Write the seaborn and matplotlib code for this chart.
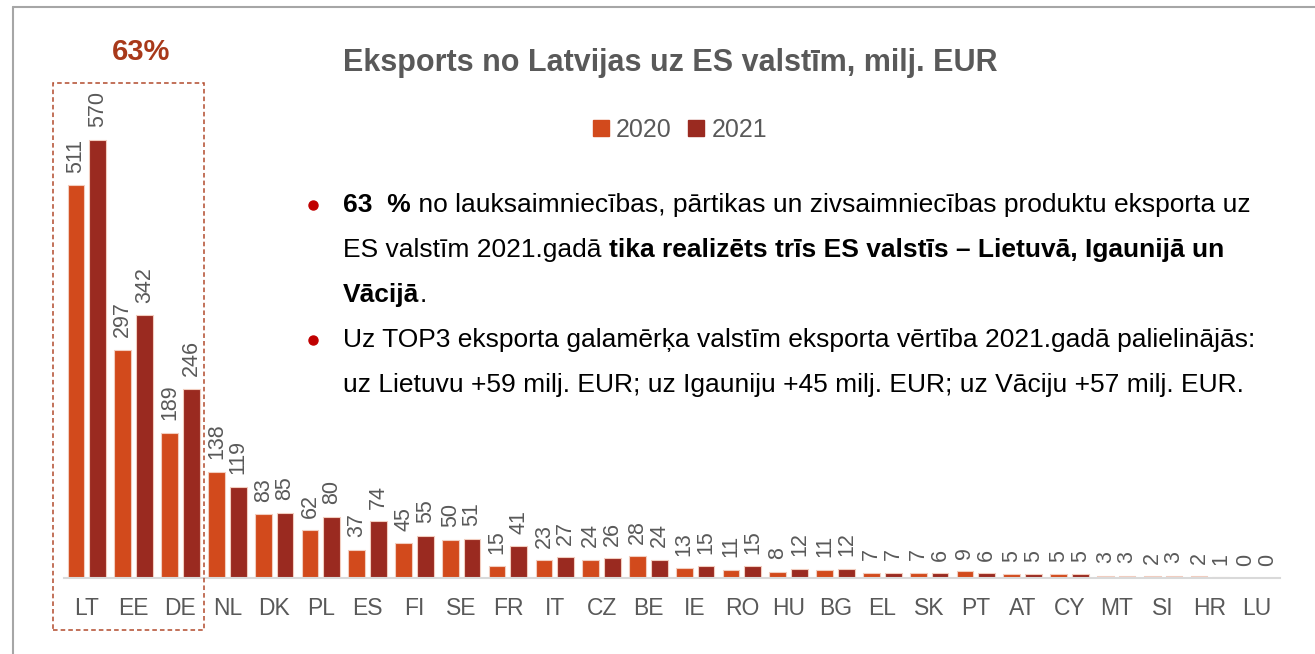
import pandas as pd
import seaborn as sns
import matplotlib.pyplot as plt
from matplotlib.patches import Rectangle
from matplotlib.lines import Line2D

countries = ['LT', 'EE', 'DE', 'NL', 'DK', 'PL', 'ES', 'FI', 'SE', 'FR', 'IT', 'CZ', 'BE',
             'IE', 'RO', 'HU', 'BG', 'EL', 'SK', 'PT', 'AT', 'CY', 'MT', 'SI', 'HR', 'LU']
exp_2020 = [511, 297, 189, 138, 83, 62, 37, 45, 50, 15, 23, 24, 28,
            13, 11, 8, 11, 7, 7, 9, 5, 5, 3, 2, 2, 0]
exp_2021 = [570, 342, 246, 119, 85, 80, 74, 55, 51, 41, 27, 26, 24,
            15, 15, 12, 12, 7, 6, 6, 5, 5, 3, 3, 1, 0]
years = ['2020', '2021']
colors = ['#D24A1C', '#9A2A20']
gray = '#595959'

title = 'Eksports no Latvijas uz ES valstīm, milj. EUR'
share = '63%'
notes = [
    [('63  %', 'bold'), (' no lauksaimniecības, pārtikas un zivsaimniecības produktu eksporta uz', 'normal')],
    [('ES valstīm 2021.gadā ', 'normal'), ('tika realizēts trīs ES valstīs – Lietuvā, Igaunijā un', 'bold')],
    [('Vācijā', 'bold'), ('.', 'normal')],
    [('Uz TOP3 eksporta galamērķa valstīm eksporta vērtība 2021.gadā palielinājās:', 'normal')],
    [('uz Lietuvu +59 milj. EUR; uz Igauniju +45 milj. EUR; uz Vāciju +57 milj. EUR.', 'normal')],
]

df = pd.DataFrame({
    'valsts': countries * 2,
    'gads': [years[0]] * len(countries) + [years[1]] * len(countries),
    'eksports': exp_2020 + exp_2021,
})

sns.set_style('white')
plt.rcParams['font.family'] = ['Liberation Sans', 'DejaVu Sans']

W, H = 1315, 654
fig = plt.figure(figsize=(W / 100, H / 100), dpi=100)
ax = fig.add_axes([63.5 / W, 1 - 578 / H, (1280 - 63.5) / W, (578 - 100) / H])

sns.barplot(data=df, x='valsts', y='eksports', hue='gads', palette=colors, saturation=1,
            width=0.93, gap=0.23, edgecolor='#F2CDBF', linewidth=0.8, ax=ax, legend=True)

for c in ax.containers:
    ax.bar_label(c, labels=[f'{v:.0f}' for v in c.datavalues], rotation=90,
                 padding=9, fontsize=15.5, color=gray)

ax.set_ylim(0, 622)
ax.set_xlim(-0.5, len(countries) - 0.5)
ax.set_xlabel('')
ax.set_ylabel('')
ax.set_yticks([])
for s in ['top', 'left', 'right']:
    ax.spines[s].set_visible(False)
ax.spines['bottom'].set_color('#D9D9D9')
ax.spines['bottom'].set_linewidth(1.5)
ax.tick_params(axis='x', length=0, pad=14, labelsize=16.5, labelcolor=gray)

handles = [Line2D([], [], marker='s', ls='', markersize=11, color=c) for c in colors]
ax.legend(handles, years, loc='center', bbox_to_anchor=(680 / W, 1 - 130 / H),
          bbox_transform=fig.transFigure, ncol=2, frameon=False, fontsize=18,
          handlelength=0.6, handletextpad=0.3, columnspacing=0.7, labelcolor=gray)

fig.text(343 / W, 1 - 63 / H, title, fontsize=22, fontweight='bold', color=gray, va='center')
fig.text(141 / W, 1 - 52 / H, share, fontsize=21, fontweight='bold', color='#A8391A',
         ha='center', va='center')

# dashed box round the top three
fig.patches.append(Rectangle((53 / W, 1 - 630 / H), (204 - 53) / W, (630 - 83) / H,
                             transform=fig.transFigure, fill=False, ls=(0, (3, 2)),
                             lw=1.1, edgecolor='#B24A2C'))
# outer frame
fig.add_artist(Line2D([13 / W, 13 / W], [0, 1 - 7 / H], color='#A6A6A6', lw=1.5))
fig.add_artist(Line2D([13 / W, 1], [1 - 7 / H, 1 - 7 / H], color='#A6A6A6', lw=1.5))

# bullet text with mixed bold parts
renderer = fig.canvas.get_renderer()
x0, y0, step = 343, 205, 45
for i, parts in enumerate(notes):
    y = 1 - (y0 + i * step) / H
    x = x0
    for s, w in parts:
        t = fig.text(x / W, y, s, fontsize=19, fontweight=w, color='black', va='center')
        x += t.get_window_extent(renderer).width
    if i in (0, 3):
        fig.add_artist(Line2D([313 / W], [y], marker='o', markersize=6.5, color='#C00000', ls=''))

fig.savefig('out.png', dpi=100)
